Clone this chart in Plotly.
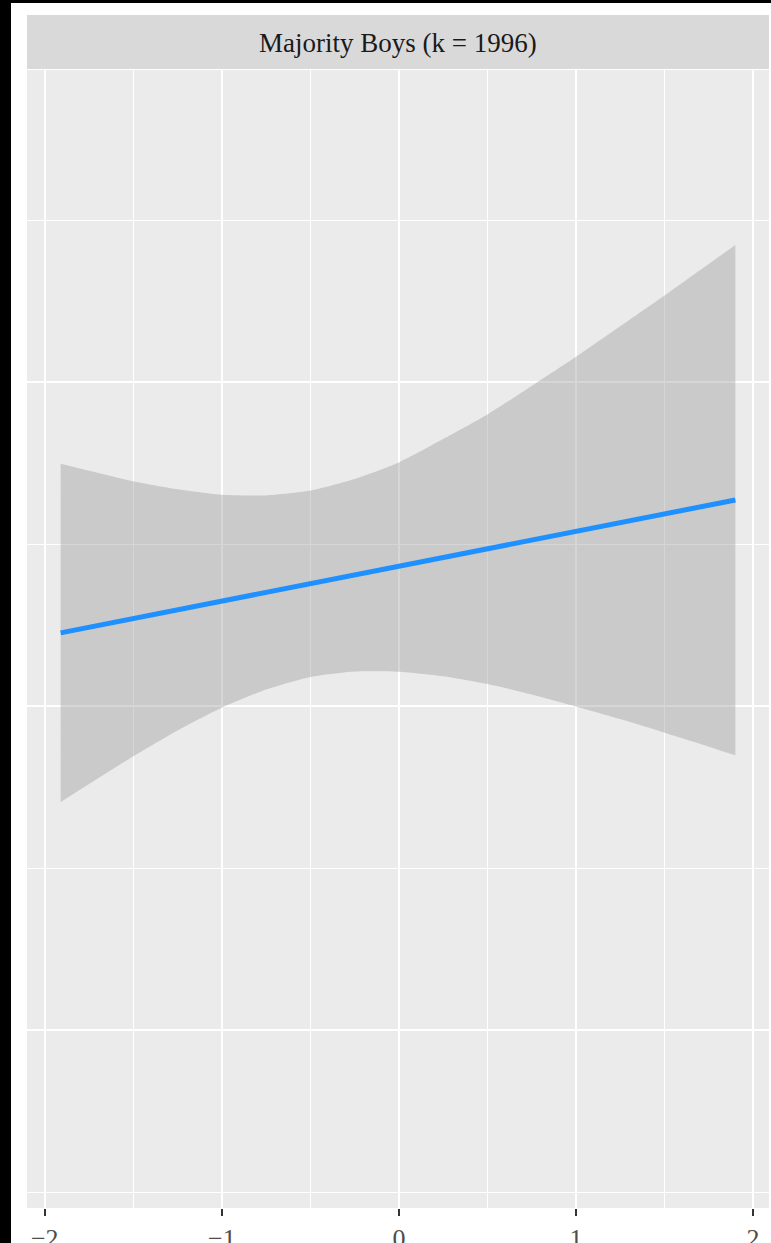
import plotly.graph_objects as go

# Predictor values (standardised) at which the fitted line and its band are drawn
x_vals = [-1.91, -1.5, -1.25, -1.0, -0.75, -0.5, -0.25, 0.0, 0.25, 0.5, 0.75, 1.0, 1.25, 1.5, 1.7, 1.90]
# Upper and lower limits of the 95% confidence band
ci_upper = [0.748, 0.694, 0.669, 0.652, 0.650, 0.665, 0.701, 0.752, 0.824, 0.900, 0.988, 1.078, 1.172, 1.267, 1.345, 1.423]
ci_lower = [-0.296, -0.155, -0.075, -0.005, 0.051, 0.090, 0.107, 0.106, 0.092, 0.068, 0.036, -0.001, -0.040, -0.082, -0.116, -0.152]
# Fitted regression line (end points)
fit_x = [-1.91, 1.90]
fit_y = [0.226, 0.636]

x_ticks = [-2, -1, 0, 1, 2]
x_ticklabels = ["\u22122", "\u22121", "0", "1", "2"]
strip_title = "Majority Boys (k = 1996)"

W, H = 771, 1243
L, R, T, B = 27, 2, 70, 35
plot_h = H - T - B
plot_w = W - L - R


def px_to_paper_x(px):
    return (px - L) / plot_w


def px_to_paper_y(py):
    return (H - B - py) / plot_h


fig = go.Figure()

fig.add_trace(go.Scatter(
    x=x_vals, y=ci_lower, mode="lines",
    line=dict(width=0, shape="spline", smoothing=0.6),
    hoverinfo="skip", showlegend=False,
))
fig.add_trace(go.Scatter(
    x=x_vals, y=ci_upper, mode="lines",
    line=dict(width=0, shape="spline", smoothing=0.6),
    fill="tonexty", fillcolor="rgba(153,153,153,0.4)",
    hoverinfo="skip", showlegend=False,
))
fig.add_trace(go.Scatter(
    x=fit_x, y=fit_y, mode="lines",
    line=dict(color="#1E90FF", width=5),
    showlegend=False,
))

shapes = [
    # facet strip
    dict(type="rect", xref="paper", yref="paper",
         x0=0, x1=1, y0=px_to_paper_y(69), y1=px_to_paper_y(15),
         fillcolor="#D9D9D9", line=dict(width=0), layer="below"),
    # dark frame edges
    dict(type="rect", xref="paper", yref="paper",
         x0=px_to_paper_x(0), x1=px_to_paper_x(11),
         y0=px_to_paper_y(H), y1=px_to_paper_y(0),
         fillcolor="black", line=dict(width=0)),
    dict(type="rect", xref="paper", yref="paper",
         x0=px_to_paper_x(0), x1=px_to_paper_x(W),
         y0=px_to_paper_y(3), y1=px_to_paper_y(0),
         fillcolor="black", line=dict(width=0)),
]

fig.update_layout(
    width=W, height=H,
    margin=dict(l=L, r=R, t=T, b=B, pad=0, autoexpand=False),
    paper_bgcolor="white",
    plot_bgcolor="#EBEBEB",
    shapes=shapes,
    annotations=[dict(
        text=strip_title, xref="paper", yref="paper",
        x=0.5, y=px_to_paper_y(43), xanchor="center", yanchor="middle",
        showarrow=False, font=dict(family="Liberation Serif", size=27, color="#1A1A1A"),
    )],
    font=dict(family="Liberation Serif"),
)

fig.update_xaxes(
    range=[-2.10, 2.09], automargin=False,
    tickmode="array", tickvals=x_ticks, ticktext=x_ticklabels,
    showgrid=True, gridcolor="white", gridwidth=2,
    minor=dict(tickvals=[-1.5, -0.5, 0.5, 1.5], showgrid=True, gridcolor="white", gridwidth=1),
    ticks="outside", ticklen=7, tickwidth=2, tickcolor="#333333",
    tickfont=dict(family="Liberation Serif", size=26, color="#4D4D4D"),
    zeroline=False, showline=False,
)
fig.update_yaxes(
    range=[-1.549, 1.963], automargin=False,
    tickmode="array", tickvals=[-1, 0, 1],
    showticklabels=False, ticks="",
    showgrid=True, gridcolor="white", gridwidth=2,
    minor=dict(tickvals=[-1.5, -0.5, 0.5, 1.5], showgrid=True, gridcolor="white", gridwidth=1),
    zeroline=False, showline=False,
)

fig.write_html("out.html")
